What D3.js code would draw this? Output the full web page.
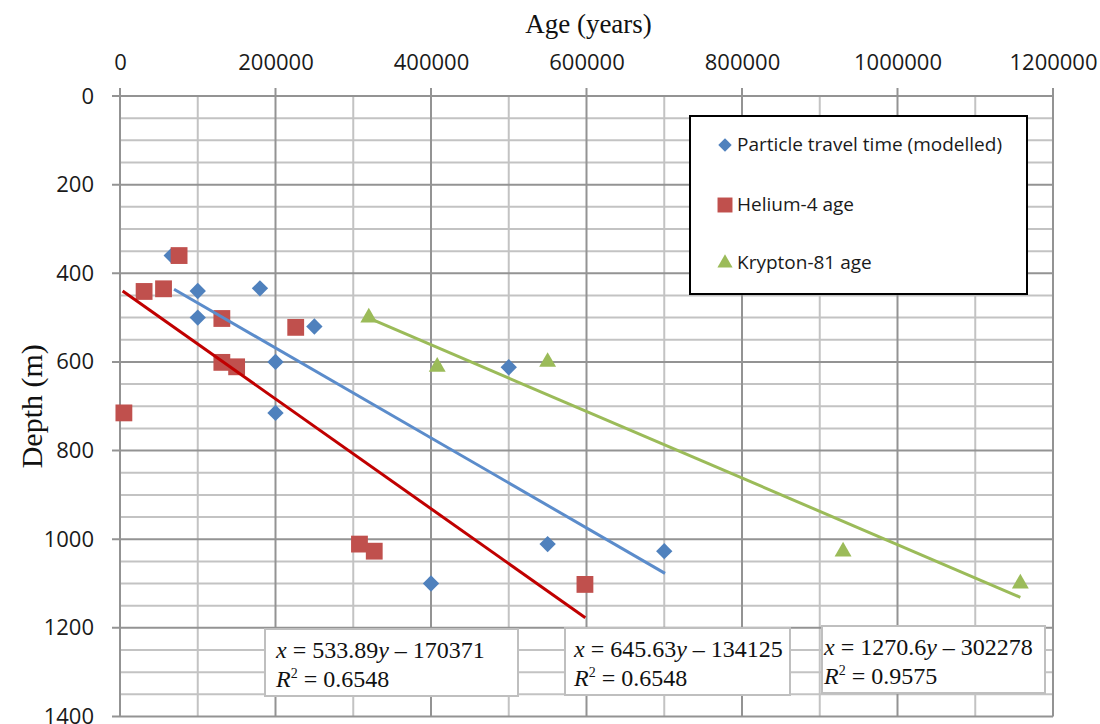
<!DOCTYPE html>
<html>
<head>
<meta charset="utf-8">
<script src="https://cdn.jsdelivr.net/npm/d3@7"></script>
<style>
  body { margin: 0; background: #fff; }
  svg { display: block; }
</style>
</head>
<body>
<div id="chart"></div>
<script>
// values
const particleAge = [66500, 100000, 180000, 100000, 250000, 200000, 200000, 500000, 550000, 700000, 400000];
const particleDepth = [360, 440, 434, 500, 520, 600, 715, 612, 1011, 1027, 1100];

const heliumAge = [76000, 31000, 56000, 131000, 226000, 131000, 150000, 5000, 308000, 327000, 598000];
const heliumDepth = [360, 441, 435, 502, 522, 601, 611, 715, 1011, 1027, 1102];

const kryptonAge = [320000, 408000, 550000, 930000, 1158000];
const kryptonDepth = [500, 611, 600, 1028, 1100];

// trend line end points [age, depth]
const particleTrend = [[69500, 436], [701000, 1077]];
const heliumTrend = [[3400, 440], [598500, 1177]];
const kryptonTrend = [[321000, 502], [1158000, 1131]];

const ageTicks = [0, 200000, 400000, 600000, 800000, 1000000, 1200000];
const depthTicks = [0, 200, 400, 600, 800, 1000, 1200, 1400];

const seriesNames = ['Particle travel time (modelled)', 'Helium-4 age', 'Krypton-81 age'];
const equations = [
  ['533.89', '170371', '0.6548'],
  ['645.63', '134125', '0.6548'],
  ['1270.6', '302278', '0.9575']
];

const width = 1100, height = 724;
const sans = '"Open Sans", "Liberation Sans", sans-serif';
const serif = '"Liberation Serif", "DejaVu Serif", serif';

const svg = d3.select('#chart').append('svg')
  .attr('width', width)
  .attr('height', height);

const x = d3.scaleLinear().domain([0, 1200000]).range([120, 1053]);
const y = d3.scaleLinear().domain([0, 1400]).range([96, 716.5]);

// minor grid
const grid = svg.append('g');
grid.selectAll('.vminor')
  .data(d3.range(100000, 1200000, 200000))
  .enter().append('line')
  .attr('x1', d => x(d)).attr('x2', d => x(d))
  .attr('y1', y(0)).attr('y2', y(1400))
  .attr('stroke', '#c3c3c3').attr('stroke-width', 2);
grid.selectAll('.hminor')
  .data(d3.range(50, 1400, 50).filter(d => d % 200 !== 0))
  .enter().append('line')
  .attr('x1', x(0)).attr('x2', x(1200000))
  .attr('y1', d => y(d)).attr('y2', d => y(d))
  .attr('stroke', '#c3c3c3').attr('stroke-width', 2);

// major grid
grid.selectAll('.vmajor')
  .data(ageTicks)
  .enter().append('line')
  .attr('x1', d => x(d)).attr('x2', d => x(d))
  .attr('y1', y(0) - 8).attr('y2', y(1400))
  .attr('stroke', '#939393').attr('stroke-width', 2);
grid.selectAll('.hmajor')
  .data(depthTicks)
  .enter().append('line')
  .attr('x1', x(0) - 8).attr('x2', x(1200000))
  .attr('y1', d => y(d)).attr('y2', d => y(d))
  .attr('stroke', '#939393').attr('stroke-width', 2);

// axes (labels only, ticks are drawn with the grid)
const xAxis = svg.append('g')
  .attr('transform', `translate(0,${y(0)})`)
  .call(d3.axisTop(x).tickValues(ageTicks).tickFormat(d3.format('d')).tickSize(0).tickPadding(26));
const yAxis = svg.append('g')
  .attr('transform', `translate(${x(0)},0)`)
  .call(d3.axisLeft(y).tickValues(depthTicks).tickFormat(d3.format('d')).tickSize(0).tickPadding(26));
[xAxis, yAxis].forEach(a => {
  a.select('.domain').remove();
  a.selectAll('text')
    .attr('font-family', sans)
    .attr('font-size', 22)
    .attr('fill', '#1a1a1a');
});

// axis titles
svg.append('text')
  .attr('x', (x(0) + x(1200000)) / 2 + 2)
  .attr('y', 33)
  .attr('text-anchor', 'middle')
  .attr('font-family', serif)
  .attr('font-size', 27)
  .attr('fill', '#111')
  .text('Age (years)');
svg.append('text')
  .attr('transform', `translate(42,${(y(0) + y(1400)) / 2}) rotate(-90)`)
  .attr('text-anchor', 'middle')
  .attr('font-family', serif)
  .attr('font-size', 30)
  .attr('fill', '#111')
  .text('Depth (m)');

const blue = '#4f81bd', red = '#c0504d', green = '#9bbb59';

const diamond = d3.symbol().type(d3.symbolDiamond2).size(170);
const square = d3.symbol().type(d3.symbolSquare2).size(360);
const triangle = d3.symbol().type(d3.symbolTriangle2).size(205);

svg.append('g').selectAll('path')
  .data(particleAge.map((a, i) => [a, particleDepth[i]]))
  .enter().append('path')
  .attr('d', diamond)
  .attr('transform', d => `translate(${x(d[0])},${y(d[1])})`)
  .attr('fill', blue);

svg.append('g').selectAll('path')
  .data(heliumAge.map((a, i) => [a, heliumDepth[i]]))
  .enter().append('path')
  .attr('d', square)
  .attr('transform', d => `translate(${x(d[0])},${y(d[1])})`)
  .attr('fill', red);

svg.append('g').selectAll('path')
  .data(kryptonAge.map((a, i) => [a, kryptonDepth[i]]))
  .enter().append('path')
  .attr('d', triangle)
  .attr('transform', d => `translate(${x(d[0])},${y(d[1])})`)
  .attr('fill', green);

// trend lines
const line = d3.line().x(d => x(d[0])).y(d => y(d[1]));
[[particleTrend, '#5b8ccb'], [heliumTrend, '#c00000'], [kryptonTrend, green]].forEach(([pts, c]) => {
  svg.append('path')
    .attr('d', line(pts))
    .attr('fill', 'none')
    .attr('stroke', c)
    .attr('stroke-width', 3);
});

// equation boxes
const boxes = [
  { x: 265, y: 629, w: 253, h: 67, tx: 276 },
  { x: 565, y: 628, w: 225, h: 67, tx: 574 },
  { x: 822, y: 626, w: 223, h: 67, tx: 824 }
];
boxes.forEach((b, i) => {
  const g = svg.append('g');
  g.append('rect')
    .attr('x', b.x).attr('y', b.y).attr('width', b.w).attr('height', b.h)
    .attr('fill', '#fff').attr('stroke', '#bfbfbf').attr('stroke-width', 2);
  const t1 = g.append('text')
    .attr('x', b.tx).attr('y', b.y + 29)
    .attr('font-family', serif).attr('font-size', 24).attr('fill', '#111');
  t1.append('tspan').attr('font-style', 'italic').text('x');
  t1.append('tspan').text(` = ${equations[i][0]}`);
  t1.append('tspan').attr('font-style', 'italic').text('y');
  t1.append('tspan').text(` \u2013 ${equations[i][1]}`);
  const t2 = g.append('text')
    .attr('x', b.tx).attr('y', b.y + 58)
    .attr('font-family', serif).attr('font-size', 24).attr('fill', '#111');
  t2.append('tspan').attr('font-style', 'italic').text('R');
  t2.append('tspan').attr('font-size', 14).attr('dy', -9).text('2');
  t2.append('tspan').attr('dy', 9).text(` = ${equations[i][2]}`);
});

// legend
const legend = svg.append('g');
legend.append('rect')
  .attr('x', 690).attr('y', 116).attr('width', 337).attr('height', 178)
  .attr('fill', '#fff').attr('stroke', '#000').attr('stroke-width', 2);
const legendSymbols = [
  d3.symbol().type(d3.symbolDiamond2).size(115),
  d3.symbol().type(d3.symbolSquare2).size(285),
  d3.symbol().type(d3.symbolTriangle2).size(165)
];
const legendColors = [blue, red, green];
const legendY = [145, 205, 263];
seriesNames.forEach((name, i) => {
  legend.append('path')
    .attr('d', legendSymbols[i])
    .attr('transform', `translate(725,${legendY[i]})`)
    .attr('fill', legendColors[i]);
  legend.append('text')
    .attr('x', 737).attr('y', legendY[i] + 6)
    .attr('font-family', sans).attr('font-size', 19).attr('fill', '#1a1a1a')
    .text(name);
});
</script>
</body>
</html>
